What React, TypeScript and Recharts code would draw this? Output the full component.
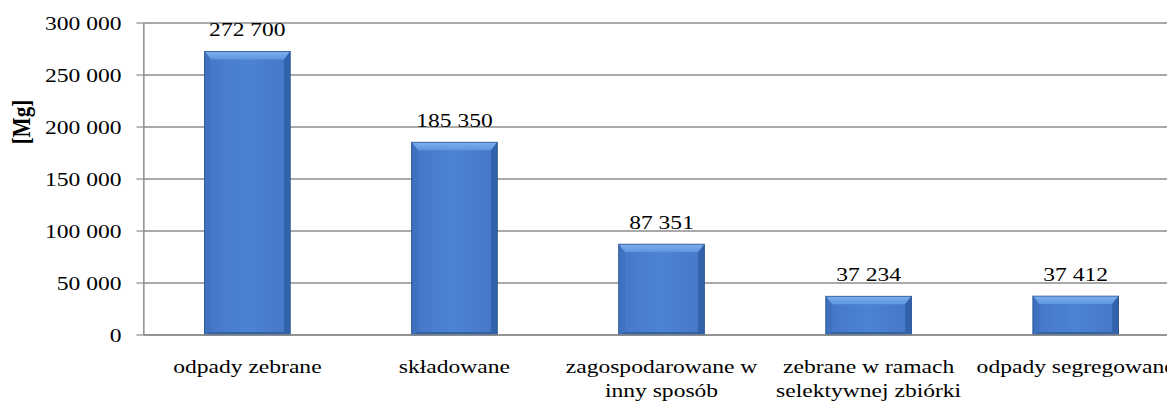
import { Bar, BarChart, CartesianGrid, LabelList, XAxis, YAxis } from 'recharts'

// categories (line breaks follow the reference wrapping)
const categories = [
  'odpady zebrane',
  'składowane',
  'zagospodarowane w\ninny sposób',
  'zebrane w ramach\nselektywnej zbiórki',
  'odpady segregowane',
]
const amounts = [272700, 185350, 87351, 37234, 37412]
const yTicks = [0, 50000, 100000, 150000, 200000, 250000, 300000]

const data = categories.map((name, i) => ({ name, value: amounts[i] }))

// source chart is stretched horizontally; draw narrow, then scale
const STRETCH = 1.24
const FONT = '"Liberation Serif", "Times New Roman", serif'
const GRID = '#8c8c8c'

function fmt(v: number | string): string {
  return String(v).replace(/\B(?=(\d{3})+(?!\d))/g, ' ')
}

interface TickProps {
  x?: number
  y?: number
  payload?: { value: string }
}

function CategoryTick({ x = 0, y = 0, payload }: TickProps) {
  const lines = String(payload?.value ?? '').split('\n')
  return (
    <text x={x} y={y} textAnchor="middle" fontFamily={FONT} fontSize={19} fill="#000">
      {lines.map((line, i) => (
        <tspan key={i} x={x} dy={i === 0 ? 30 : 24}>
          {line}
        </tspan>
      ))}
    </text>
  )
}

interface BarShapeProps {
  x?: number
  y?: number
  width?: number
  height?: number
}

// bevelled bar, like the office "angle" bar style
function BevelBar({ x = 0, y = 0, width = 0, height = 0 }: BarShapeProps) {
  if (height <= 0) return null
  const bx = Math.min(5, width / 4)
  const by = Math.min(8, height / 4)
  const bb = Math.min(3, height / 6)
  const r = x + width
  const b = y + height
  return (
    <g>
      <rect x={x} y={y} width={width} height={height} fill="url(#faceGrad)" />
      <polygon points={`${x},${y} ${r},${y} ${r - bx},${y + by} ${x + bx},${y + by}`} fill="url(#topGrad)" />
      <polygon points={`${x},${y} ${x + bx},${y + by} ${x + bx},${b - bb} ${x},${b}`} fill="#3e71bf" />
      <polygon points={`${r},${y} ${r},${b} ${r - bx},${b - bb} ${r - bx},${y + by}`} fill="#3262ab" />
      <polygon points={`${x},${b} ${x + bx},${b - bb} ${r - bx},${b - bb} ${r},${b}`} fill="#35639f" />
      <rect x={x} y={y} width={width} height={height} fill="none" stroke="#2d5793" strokeWidth={0.8} />
    </g>
  )
}

export default function App() {
  return (
    <div
      style={{
        position: 'fixed',
        left: 0,
        top: 0,
        width: 1167,
        height: 403,
        overflow: 'hidden',
        background: '#fff',
      }}
    >
      <div style={{ width: 951, height: 403, transform: `scaleX(${STRETCH})`, transformOrigin: '0 0' }}>
        <BarChart width={951} height={403} data={data} margin={{ top: 23, right: 0, bottom: 0, left: 0 }}>
          <defs>
            <linearGradient id="faceGrad" x1="0" y1="0" x2="1" y2="0">
              <stop offset="0%" stopColor="#4576c6" />
              <stop offset="50%" stopColor="#4d83d3" />
              <stop offset="100%" stopColor="#4577c5" />
            </linearGradient>
            <linearGradient id="topGrad" x1="0" y1="0" x2="0" y2="1">
              <stop offset="0%" stopColor="#7eb0ee" />
              <stop offset="100%" stopColor="#5f95df" />
            </linearGradient>
          </defs>
          <CartesianGrid vertical={false} stroke={GRID} strokeWidth={1.5} />
          <XAxis
            dataKey="name"
            height={68}
            interval={0}
            axisLine={{ stroke: GRID, strokeWidth: 1.5 }}
            tickLine={false}
            tick={<CategoryTick />}
          />
          <YAxis
            width={116}
            domain={[0, 300000]}
            ticks={yTicks}
            interval={0}
            axisLine={{ stroke: GRID, strokeWidth: 1.2 }}
            tickLine={{ stroke: GRID, strokeWidth: 1.2 }}
            tickSize={6}
            tickMargin={12}
            tickFormatter={fmt}
            tick={{ fill: '#000', fontSize: 19, fontFamily: FONT }}
            label={{
              value: '[Mg]',
              content: () => (
                <text
                  x={17}
                  y={122}
                  transform="rotate(-90 17 122)"
                  textAnchor="middle"
                  dominantBaseline="central"
                  fontFamily={FONT}
                  fontWeight="bold"
                  fontSize={21}
                  fill="#000"
                >
                  [Mg]
                </text>
              ),
            }}
          />
          <Bar dataKey="value" barSize={69} shape={<BevelBar />} isAnimationActive={false}>
            <LabelList
              dataKey="value"
              position="top"
              offset={15}
              formatter={fmt}
              fill="#000"
              fontSize={19}
              fontFamily={FONT}
            />
          </Bar>
        </BarChart>
      </div>
    </div>
  )
}
